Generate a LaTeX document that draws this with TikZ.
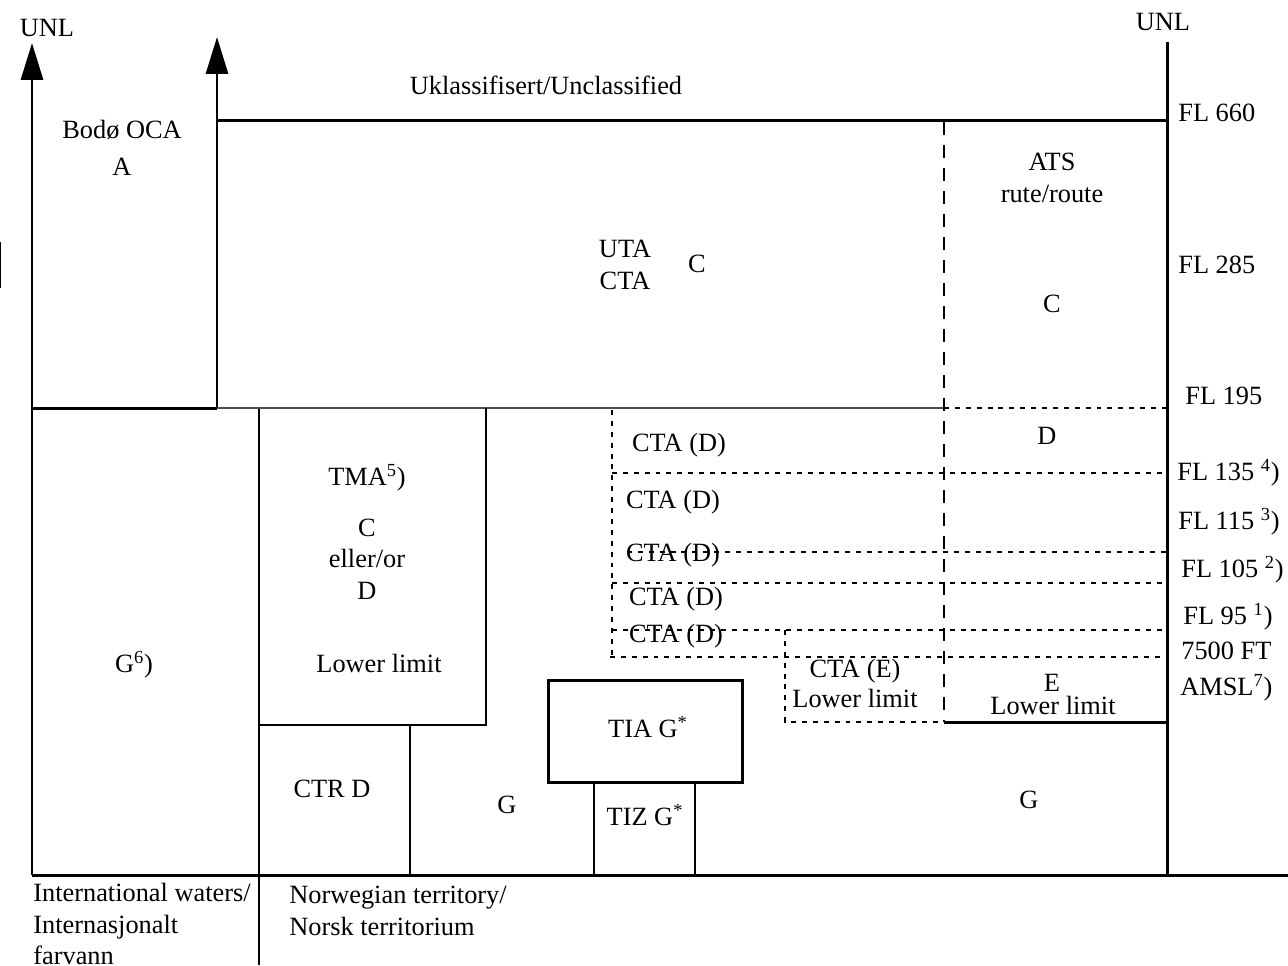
\documentclass[tikz,border=0pt]{standalone}
\usepackage{fontspec}
\setmainfont{Liberation Serif}
\usetikzlibrary{arrows.meta}

\begin{document}
\begin{tikzpicture}[x=0.02cm, y=-0.02cm, font=\fontsize{15}{18}\selectfont,
	heavy/.style={line width=1.7pt},
	medium/.style={line width=1.2pt},
	light/.style={line width=0.6pt},
	shortdash/.style={line width=0.9pt, dash pattern=on 2.8pt off 3.4pt},
	longdash/.style={line width=1.1pt, dash pattern=on 7.4pt off 5.7pt},
	lbl/.style={inner sep=0pt, align=center},
	fl/.style={inner sep=0pt, anchor=west}]
	\useasboundingbox (0,0) rectangle (1288,965);
	
	%main frame and the two open-ended columns
	\draw[heavy, -{Triangle[length=21pt,width=12.5pt]}] (32,875) -- (32,43);
	\draw[heavy, -{Triangle[length=21pt,width=12.5pt]}] (217,408) -- (217,37);
	\draw[heavy] (32,408) -- (217,408);
	\draw[heavy] (217,120) -- (1167,120);
	\draw[heavy] (1167,42) -- (1167,875);
	\draw[heavy] (32,875) -- (1288,875);
	\draw[medium] (259,408) -- (259,965);
	\draw[light, black!70] (217,408) -- (944,408);
	\draw[light] (0.5,242) -- (0.5,288);
	
	%TMA, CTR
	\draw[medium] (259,725) -- (486,725) -- (486,408);
	\draw[medium] (410,725) -- (410,875);
	%TIA, TIZ
	\draw[heavy] (548,680) rectangle (742,782);
	\draw[medium] (594,782) -- (594,875);
	\draw[medium] (695,782) -- (695,875);
	%E lower limit
	\draw[heavy] (944,722) -- (1167,722);
	
	%ATS route and CTA layers
	\draw[longdash] (944,122) -- (944,722);
	\draw[shortdash] (944,408) -- (1167,408);
	\draw[shortdash] (612,410) -- (612,657);
	\draw[shortdash] (612,473) -- (1167,473);
	\draw[shortdash] (627,552) -- (1167,552);
	\draw[shortdash] (612,583) -- (1167,583);
	\draw[shortdash] (612,630) -- (1167,630);
	\draw[shortdash] (610,657) -- (1167,657);
	\draw[shortdash] (785,630) -- (785,722) -- (944,722);
	
	%labels in the upper part
	\node[lbl] (unlL) at (47,28) {UNL};
	\node[lbl] (unlR) at (1163,22) {UNL};
	\node[lbl] (unclass) at (546,85) {Uklassifisert/Unclassified};
	\node[lbl] (bodo) at (122,148) {Bodø OCA\\[3pt]A};
	\node[lbl] (uta) at (625,265) {UTA\\CTA};
	\node[lbl] (utaC) at (697,264) {C};
	\node[lbl] (ats) at (1052,178) {ATS\\rute/route};
	\node[lbl] (atsC) at (1052,304) {C};
	\node[lbl] (atsD) at (1047,436) {D};
	
	%flight levels
	\node[fl] (fl660) at (1178,113) {FL 660};
	\node[fl] (fl285) at (1178,265) {FL 285};
	\node[fl] (fl195) at (1185,396) {FL 195};
	\node[fl] (fl135) at (1177,473) {FL 135 \textsuperscript{4})};
	\node[fl] (fl115) at (1178,522) {FL 115 \textsuperscript{3})};
	\node[fl] (fl105) at (1181,570) {FL 105 \textsuperscript{2})};
	\node[fl] (fl95) at (1183,617) {FL 95 \textsuperscript{1})};
	\node[fl] (ft7500) at (1181,651) {7500 FT};
	\node[fl] (amsl) at (1180,688) {AMSL\textsuperscript{7})};
	
	%CTA stack
	\node[lbl] (cta1) at (679,445) {CTA (D)};
	\node[lbl] (cta2) at (673,502) {CTA (D)};
	\node[lbl] (cta3) at (673,555) {CTA (D)};
	\node[lbl] (cta4) at (676,599) {CTA (D)};
	\node[lbl] (cta5) at (676,636) {CTA (D)};
	\node[lbl] (ctaE) at (855,671) {CTA (E)};
	\node[lbl] (ctaElow) at (855,698) {Lower limit};
	\node[lbl] (areaE) at (1052,683) {E};
	\node[lbl] (areaElow) at (1053,705) {Lower limit};
	
	%lower part
	\node[lbl] (tma) at (367,478) {TMA\textsuperscript{5})};
	\node[lbl] (tmaCD) at (367,559) {C\\eller/or\\D};
	\node[lbl] (tmalow) at (379,663) {Lower limit};
	\node[lbl] (gint) at (134,665) {G\textsuperscript{6})};
	\node[lbl] (tia) at (648,727) {TIA G\textsuperscript{*}};
	\node[lbl] (tiz) at (645,815) {TIZ G\textsuperscript{*}};
	\node[lbl] (ctr) at (332,789) {CTR D};
	\node[lbl] (gmid) at (507,805) {G};
	\node[lbl] (gright) at (1029,800) {G};
	
	%territory
	\node[inner sep=0pt, align=left, anchor=west] (intl) at (33,924) {International waters/\\Internasjonalt\\farvann};
	\node[inner sep=0pt, align=left, anchor=west] (norw) at (289,911) {Norwegian territory/\\Norsk territorium};
\end{tikzpicture}
\end{document}
